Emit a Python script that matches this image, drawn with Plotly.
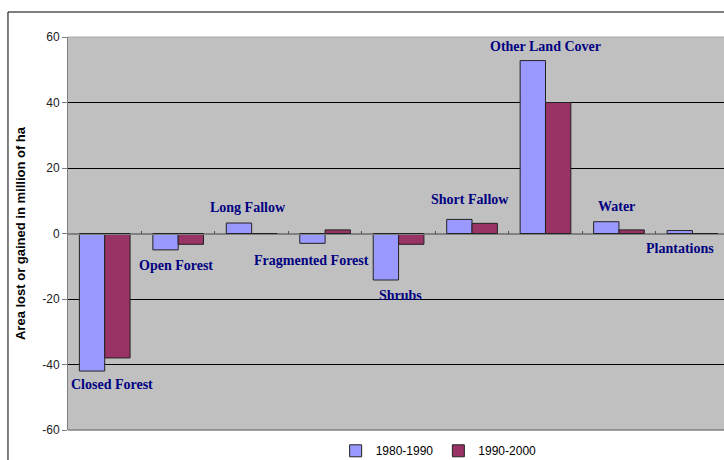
import plotly.graph_objects as go

# Change in land cover area (million ha) by cover class
categories = ["Closed Forest", "Open Forest", "Long Fallow", "Fragmented Forest",
              "Shrubs", "Short Fallow", "Other Land Cover", "Water", "Plantations"]
change_1980_1990 = [-42.0, -5.0, 3.2, -3.0, -14.2, 4.3, 52.8, 3.6, 0.9]
change_1990_2000 = [-38.0, -3.3, -0.3, 1.1, -3.3, 3.1, 40.0, 1.1, 0.0]
y_ticks = [-60, -40, -20, 0, 20, 40, 60]

# Where each class name is written (category index, value units)
label_x = [0.10, 0.97, 1.95, 2.82, 4.03, 4.97, 6.0, 6.97, 7.83]
label_y = [-46.0, -9.9, 7.8, -8.1, -18.8, 10.5, 57.0, 8.1, -4.7]

fig = go.Figure()
fig.add_trace(go.Bar(
    x=list(range(len(categories))), y=change_1980_1990, name="1980-1990",
    marker=dict(color="#9999FF", line=dict(color="#222222", width=1)),
))
fig.add_trace(go.Bar(
    x=list(range(len(categories))), y=change_1990_2000, name="1990-2000",
    marker=dict(color="#993366", line=dict(color="#222222", width=1)),
))

for name, lx, ly in zip(categories, label_x, label_y):
    fig.add_annotation(
        x=lx, y=ly, xref="x", yref="y", text=f"<b>{name}</b>", showarrow=False,
        font=dict(family="Liberation Serif", size=14, color="#000080"),
        xanchor="center", yanchor="middle",
    )

# Chart-area frame
fig.add_shape(type="rect", xref="paper", yref="paper",
              x0=-0.0915, x1=1.2, y0=-0.2, y1=1.0636,
              line=dict(color="black", width=1), layer="below")

fig.update_layout(
    width=724, height=460,
    margin=dict(l=68, r=0, t=37, b=30, autoexpand=False),
    paper_bgcolor="white", plot_bgcolor="#C0C0C0",
    barmode="group", bargap=0.31, bargroupgap=0.0,
    font=dict(family="Liberation Sans", size=12, color="black"),
    showlegend=True,
    legend=dict(orientation="h", x=0.565, xanchor="center",
                yref="container", y=0.02, yanchor="middle",
                font=dict(family="Liberation Sans", size=12, color="black"),
                bgcolor="rgba(0,0,0,0)", itemwidth=30, tracegroupgap=0),
    xaxis=dict(
        range=[-0.5, 8.43], tickmode="array",
        tickvals=[i + 0.5 for i in range(len(categories) - 1)],
        showticklabels=False, ticks="inside", ticklen=3, tickcolor="#555555",
        showgrid=False, zeroline=False,
        anchor="free", position=0.5, showline=True, linecolor="#808080", linewidth=1,
    ),
    yaxis=dict(
        range=[-60, 60], tickvals=y_ticks, ticktext=[str(v) for v in y_ticks],
        ticks="outside", ticklen=5, tickcolor="#808080",
        tickfont=dict(family="Liberation Sans", size=12, color="#222222"),
        showgrid=True, gridcolor="black", gridwidth=1,
        zeroline=True, zerolinecolor="#808080", zerolinewidth=1.5,
        showline=True, linecolor="#808080", linewidth=1,
        title=dict(text="<b>Area lost or gained in million of ha</b>",
                   font=dict(family="Liberation Sans", size=13, color="black"),
                   standoff=13),
    ),
)
# Plot-area frame lines
fig.add_shape(type="line", xref="paper", yref="paper", x0=0, x1=1, y0=0, y1=0,
              line=dict(color="#808080", width=1.5))
fig.add_shape(type="line", xref="paper", yref="paper", x0=0, x1=1, y0=1, y1=1,
              line=dict(color="#A8A8A8", width=1))

fig.write_html("out.html")
